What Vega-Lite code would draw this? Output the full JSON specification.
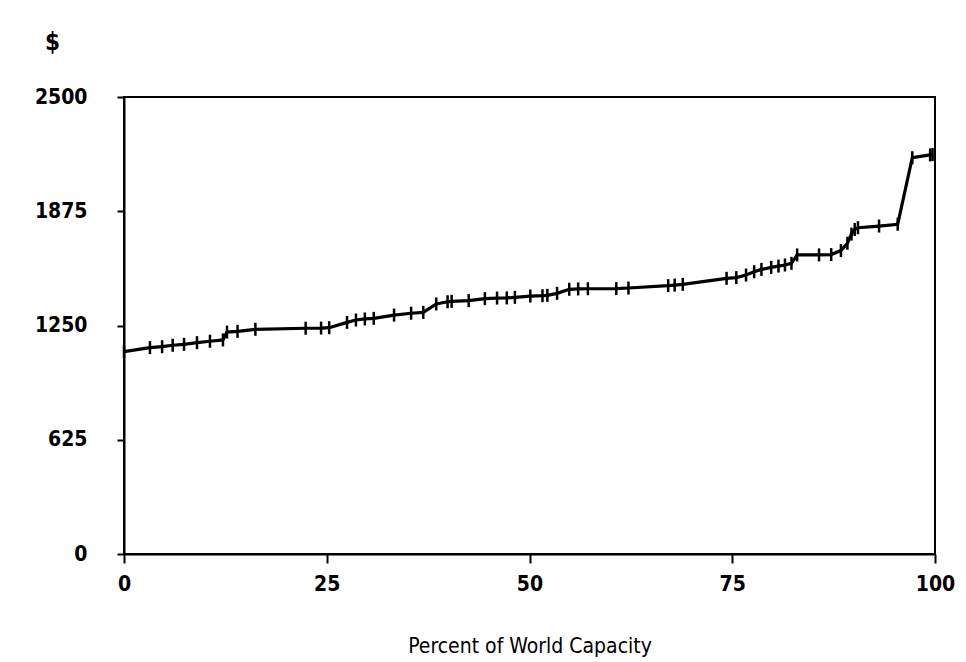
{
  "$schema": "https://vega.github.io/schema/vega-lite/v6.json",
  "autosize": {"type": "none"},
  "padding": {"left": 124, "top": 97, "right": 31, "bottom": 108},
  "width": 811,
  "height": 457,
  "background": "white",
  "config": {
    "view": {"stroke": "black", "strokeWidth": 2},
    "font": "DejaVu Sans Condensed, Liberation Sans, sans-serif",
    "axis": {
      "grid": false,
      "domainColor": "black",
      "domainWidth": 2,
      "tickColor": "black",
      "tickWidth": 2,
      "labelColor": "black",
      "labelFont": "DejaVu Sans Condensed, Liberation Sans, sans-serif",
      "labelFontSize": 21,
      "titleColor": "black",
      "titleFont": "DejaVu Sans Condensed, Liberation Sans, sans-serif"
    }
  },
  "data": {
    "values": [
      {"pct": 0, "cost": 1107},
      {"pct": 3.2, "cost": 1129},
      {"pct": 4.7, "cost": 1134},
      {"pct": 6.0, "cost": 1142},
      {"pct": 7.4, "cost": 1147},
      {"pct": 9.0, "cost": 1156},
      {"pct": 10.6, "cost": 1164},
      {"pct": 12.2, "cost": 1171},
      {"pct": 12.7, "cost": 1214},
      {"pct": 14.0, "cost": 1218},
      {"pct": 16.2, "cost": 1229},
      {"pct": 22.4, "cost": 1235},
      {"pct": 24.3, "cost": 1236},
      {"pct": 25.3, "cost": 1238},
      {"pct": 27.5, "cost": 1267},
      {"pct": 28.6, "cost": 1280},
      {"pct": 29.7, "cost": 1286},
      {"pct": 30.8, "cost": 1289},
      {"pct": 33.3, "cost": 1307},
      {"pct": 35.4, "cost": 1317},
      {"pct": 36.9, "cost": 1322},
      {"pct": 38.5, "cost": 1368},
      {"pct": 39.9, "cost": 1380},
      {"pct": 40.4, "cost": 1382},
      {"pct": 42.5, "cost": 1386},
      {"pct": 44.5, "cost": 1397},
      {"pct": 46.0, "cost": 1400},
      {"pct": 47.2, "cost": 1401},
      {"pct": 48.2, "cost": 1404},
      {"pct": 50.1, "cost": 1411},
      {"pct": 51.6, "cost": 1413},
      {"pct": 52.2, "cost": 1415},
      {"pct": 53.4, "cost": 1426},
      {"pct": 54.9, "cost": 1448},
      {"pct": 56.0, "cost": 1450},
      {"pct": 57.2, "cost": 1451},
      {"pct": 60.7, "cost": 1452},
      {"pct": 62.2, "cost": 1455},
      {"pct": 67.1, "cost": 1468},
      {"pct": 67.9, "cost": 1471},
      {"pct": 68.9, "cost": 1475},
      {"pct": 74.3, "cost": 1508},
      {"pct": 75.5, "cost": 1512},
      {"pct": 76.7, "cost": 1526},
      {"pct": 77.7, "cost": 1544},
      {"pct": 78.6, "cost": 1557},
      {"pct": 79.8, "cost": 1568},
      {"pct": 80.7, "cost": 1575},
      {"pct": 81.5, "cost": 1581},
      {"pct": 82.3, "cost": 1590},
      {"pct": 83.0, "cost": 1636},
      {"pct": 85.7, "cost": 1636},
      {"pct": 87.2, "cost": 1638},
      {"pct": 88.4, "cost": 1660},
      {"pct": 89.2, "cost": 1700},
      {"pct": 89.7, "cost": 1750},
      {"pct": 90.1, "cost": 1775},
      {"pct": 90.5, "cost": 1785},
      {"pct": 93.1, "cost": 1794},
      {"pct": 95.4, "cost": 1804},
      {"pct": 97.2, "cost": 2168},
      {"pct": 99.4, "cost": 2183},
      {"pct": 99.7, "cost": 2185}
    ]
  },
  "encoding": {
    "x": {
      "field": "pct",
      "type": "quantitative",
      "scale": {"domain": [0, 100], "nice": false, "zero": false},
      "axis": {
        "values": [0, 25, 50, 75, 100],
        "format": "d",
        "tickSize": 9,
        "labelPadding": 10,
        "labelFlush": false,
        "labelFontWeight": "bold",
        "title": "Percent of World Capacity",
        "titleFontSize": 21,
        "titleFontWeight": "normal",
        "titleY": 98,
        "titleBaseline": "alphabetic"
      }
    },
    "y": {
      "field": "cost",
      "type": "quantitative",
      "scale": {"domain": [0, 2500], "nice": false},
      "axis": {
        "values": [0, 625, 1250, 1875, 2500],
        "format": "d",
        "tickSize": 7,
        "labelPadding": 30,
        "labelFlush": false,
        "labelFontWeight": "bold",
        "title": "$",
        "titleAngle": 0,
        "titleFontSize": 24,
        "titleFontWeight": "bold",
        "titleAlign": "center",
        "titleBaseline": "middle",
        "titleX": -72,
        "titleY": -55
      }
    }
  },
  "layer": [
    {"mark": {"type": "line", "color": "black", "strokeWidth": 3.2}},
    {"mark": {"type": "tick", "orient": "vertical", "color": "black", "opacity": 1, "size": 13, "thickness": 2.5}}
  ]
}
